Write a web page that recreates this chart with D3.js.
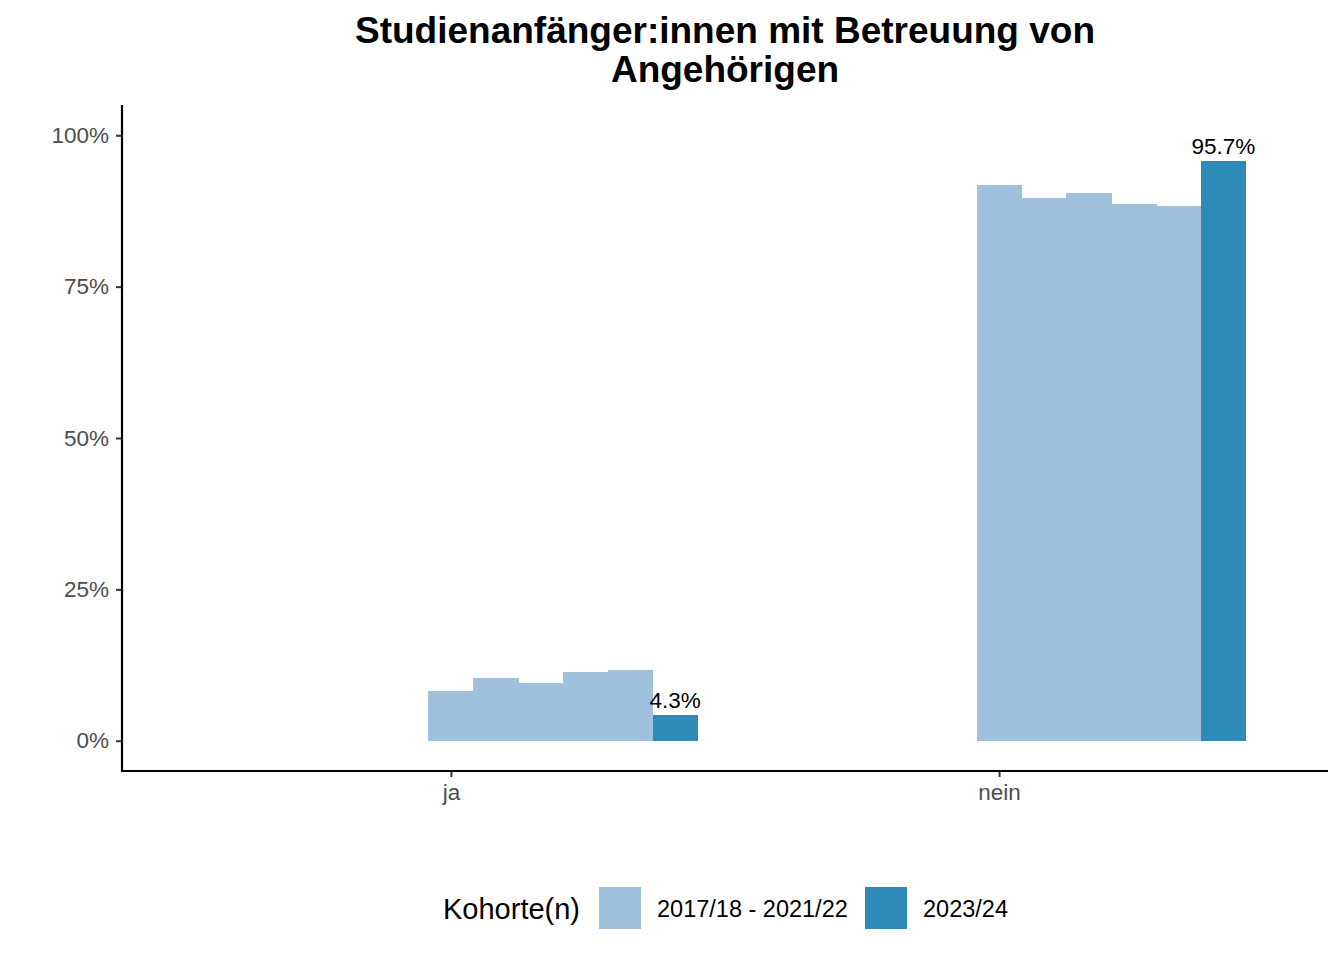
<!DOCTYPE html>
<html lang="de">
<head>
<meta charset="utf-8">
<title>Studienanfänger:innen mit Betreuung von Angehörigen</title>
<script src="https://d3js.org/d3.v7.min.js"></script>
<style>
  body { margin: 0; background: #fff; }
  text { font-family: "Liberation Sans", Arial, Helvetica, sans-serif; }
</style>
</head>
<body>
<script>
// Daten
var categories = ["ja", "nein"];
var cohorts = ["2017/18", "2018/19", "2019/20", "2020/21", "2021/22", "2023/24"];
var valuesJa = [8.2, 10.4, 9.6, 11.4, 11.7, 4.3];
var valuesNein = [91.8, 89.6, 90.4, 88.6, 88.3, 95.7];
var yTicks = [0, 25, 50, 75, 100];
var legendLabels = ["2017/18 - 2021/22", "2023/24"];
var colors = ["#a0c1de", "#2e8bb7"];

var w = 1344, h = 960;
var mLeft = 122, mRight = 1328, mTop = 105, mBottom = 771;

var svg = d3.select("body").append("svg")
    .attr("width", w)
    .attr("height", h);

// Skalen
var x = d3.scalePoint().domain(categories).range([mLeft, mRight]).padding(0.6);
var bw = x.step() * 0.9 / 11;
var y = d3.scaleLinear().domain([-5, 105]).range([mBottom, mTop]);

// Datentabelle
var rows = [];
categories.forEach(function(c, ci) {
    var vals = ci === 0 ? valuesJa : valuesNein;
    cohorts.forEach(function(k, i) {
        rows.push({cat: c, idx: i, value: vals[i], current: i === cohorts.length - 1});
    });
});

svg.selectAll("rect.bar")
    .data(rows)
    .enter()
    .append("rect")
    .attr("class", "bar")
    .attr("x", function(d) { return x(d.cat) + (d.idx - 0.5) * bw; })
    .attr("y", function(d) { return y(d.value); })
    .attr("width", bw + 0.5)
    .attr("height", function(d) { return y(0) - y(d.value); })
    .attr("fill", function(d) { return d.current ? colors[1] : colors[0]; })
    .attr("shape-rendering", "crispEdges");

// Beschriftung der aktuellen Kohorte
svg.selectAll("text.lab")
    .data(rows.filter(function(d) { return d.current; }))
    .enter()
    .append("text")
    .attr("class", "lab")
    .attr("x", function(d) { return x(d.cat) + d.idx * bw; })
    .attr("y", function(d) { return y(d.value) - 7; })
    .attr("text-anchor", "middle")
    .attr("font-size", 22.5)
    .attr("fill", "#000")
    .text(function(d) { return d.value.toFixed(1) + "%"; });

// Achsen
var yAxis = svg.append("g")
    .attr("transform", "translate(" + mLeft + ",0)")
    .call(d3.axisLeft(y).tickValues(yTicks).tickSize(6).tickPadding(7)
        .tickFormat(function(d) { return d + "%"; }));
var xAxis = svg.append("g")
    .attr("transform", "translate(0," + mBottom + ")")
    .call(d3.axisBottom(x).tickSize(6).tickPadding(7));

[yAxis, xAxis].forEach(function(g) {
    g.select(".domain").remove();
    g.selectAll(".tick line").attr("stroke", "#333").attr("stroke-width", 2);
    g.selectAll(".tick text").attr("fill", "#4d4d4d").attr("font-size", 22.5)
        .attr("font-family", "Liberation Sans, Arial, sans-serif");
});

svg.append("line")
    .attr("x1", mLeft).attr("x2", mLeft)
    .attr("y1", mTop).attr("y2", mBottom + 1)
    .attr("stroke", "#000").attr("stroke-width", 2.2);
svg.append("line")
    .attr("x1", mLeft - 1).attr("x2", mRight)
    .attr("y1", mBottom).attr("y2", mBottom)
    .attr("stroke", "#000").attr("stroke-width", 2.2);

// Titel
var title = svg.append("text")
    .attr("x", (mLeft + mRight) / 2)
    .attr("text-anchor", "middle")
    .attr("font-size", 37)
    .attr("font-weight", "bold")
    .attr("fill", "#000");
title.append("tspan").attr("x", (mLeft + mRight) / 2).attr("y", 43)
    .text("Studienanfänger:innen mit Betreuung von");
title.append("tspan").attr("x", (mLeft + mRight) / 2).attr("y", 82)
    .text("Angehörigen");

// Legende
var lg = svg.append("g");
lg.append("text")
    .attr("x", 443).attr("y", 919)
    .attr("font-size", 29)
    .attr("fill", "#000")
    .text("Kohorte(n)");
var keyX = [599, 865];
legendLabels.forEach(function(l, i) {
    lg.append("rect")
        .attr("x", keyX[i]).attr("y", 887)
        .attr("width", 42).attr("height", 42)
        .attr("fill", colors[i]);
    lg.append("text")
        .attr("x", keyX[i] + 58).attr("y", 917)
        .attr("font-size", 23.5)
        .attr("fill", "#000")
        .text(l);
});
</script>
</body>
</html>
